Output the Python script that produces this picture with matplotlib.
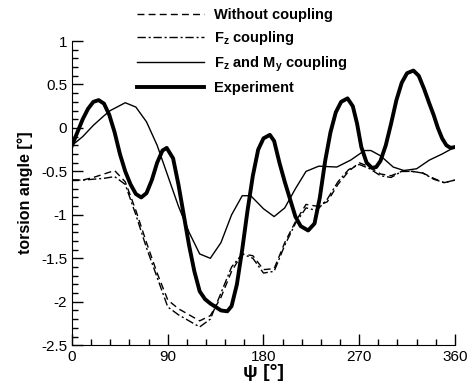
import matplotlib
matplotlib.use("Agg")
import matplotlib.pyplot as plt
from matplotlib.ticker import MultipleLocator

plt.rcParams['font.family'] = ['Liberation Sans', 'DejaVu Sans']
plt.rcParams['axes.unicode_minus'] = False
plt.rcParams['mathtext.fontset'] = 'custom'
plt.rcParams['mathtext.rm'] = 'Liberation Sans'
plt.rcParams['mathtext.bf'] = 'Liberation Sans:bold'

# simulation results, psi in degrees
psi_sim = [0, 10, 20, 30, 40, 50, 60, 70, 80, 90, 100, 110, 120, 130, 140, 150, 160, 170,
           180, 190, 200, 210, 220, 230, 240, 250, 260, 270, 280, 290, 300, 310, 320, 330,
           340, 350, 360]
without_coupling = [-0.60, -0.60, -0.57, -0.53, -0.49, -0.62, -0.95, -1.32, -1.67, -1.98,
                    -2.08, -2.15, -2.22, -2.16, -1.95, -1.65, -1.45, -1.47, -1.63, -1.62,
                    -1.32, -1.08, -0.88, -0.90, -0.85, -0.65, -0.50, -0.40, -0.45, -0.53,
                    -0.55, -0.50, -0.50, -0.52, -0.58, -0.63, -0.60]
fz_coupling = [-0.60, -0.60, -0.59, -0.58, -0.56, -0.65, -1.00, -1.38, -1.72, -2.06,
               -2.15, -2.22, -2.29, -2.20, -1.90, -1.60, -1.45, -1.50, -1.67, -1.65,
               -1.35, -1.10, -0.92, -0.95, -0.82, -0.62, -0.48, -0.42, -0.47, -0.55,
               -0.57, -0.50, -0.50, -0.52, -0.59, -0.63, -0.60]

psi_fzmy = [0, 10, 20, 30, 36, 50, 60, 70, 80, 90, 100, 110, 120, 130, 140, 150, 160, 168,
            180, 190, 200, 210, 220, 232, 249, 262, 275, 281, 290, 302, 312, 324, 336, 348, 360]
fz_my_coupling = [-0.20, -0.10, 0.03, 0.14, 0.20, 0.29, 0.24, 0.07, -0.20, -0.55, -0.90,
                  -1.20, -1.45, -1.50, -1.32, -1.00, -0.78, -0.78, -0.93, -1.02, -0.92,
                  -0.70, -0.50, -0.44, -0.45, -0.37, -0.26, -0.26, -0.32, -0.45, -0.49,
                  -0.47, -0.37, -0.30, -0.22]

# measured
psi_exp = [0, 5, 10, 15, 20, 25, 30, 35, 40, 45, 50, 55, 60, 65, 70, 75, 80, 85, 89, 95,
           100, 105, 110, 115, 120, 125, 130, 135, 140, 146, 150, 155, 160, 165, 170, 175,
           180, 186, 190, 195, 200, 205, 210, 215, 222, 228, 233, 238, 243, 248, 253, 259,
           264, 268, 272, 277, 282, 286, 290, 295, 300, 305, 310, 315, 321, 326, 331, 336,
           340, 344, 348, 352, 356, 360]
experiment = [-0.20, -0.05, 0.10, 0.22, 0.30, 0.32, 0.28, 0.15, -0.05, -0.30, -0.50, -0.65,
              -0.76, -0.80, -0.75, -0.60, -0.40, -0.26, -0.23, -0.35, -0.65, -1.00, -1.35,
              -1.65, -1.88, -1.97, -2.02, -2.06, -2.10, -2.11, -2.05, -1.80, -1.40, -0.95,
              -0.55, -0.25, -0.12, -0.08, -0.15, -0.40, -0.62, -0.82, -1.02, -1.13, -1.18,
              -1.10, -0.80, -0.38, -0.05, 0.18, 0.30, 0.34, 0.25, 0.05, -0.22, -0.40, -0.46,
              -0.45, -0.38, -0.20, 0.05, 0.32, 0.52, 0.63, 0.66, 0.60, 0.45, 0.28, 0.15, 0.00,
              -0.12, -0.20, -0.23, -0.22]

fig = plt.figure(figsize=(4.68, 3.87), dpi=100)
ax = fig.add_axes([0.154, 0.108, 0.818, 0.786])

ax.plot(psi_sim, without_coupling, color='black', lw=1.0, ls=(0, (5, 3)),
        label='Without coupling')
ax.plot(psi_sim, fz_coupling, color='black', lw=1.0, ls=(0, (6, 2, 1.5, 2)),
        label=r'$\mathbf{F_z}$ coupling')
ax.plot(psi_fzmy, fz_my_coupling, color='black', lw=1.0,
        label=r'$\mathbf{F_z}$ and $\mathbf{M_y}$ coupling')
ax.plot(psi_exp, experiment, color='black', lw=2.8, label='Experiment')

ax.set_xlim(0, 360)
ax.set_ylim(-2.5, 1)
ax.xaxis.set_major_locator(MultipleLocator(90))
ax.xaxis.set_minor_locator(MultipleLocator(18))
ax.yaxis.set_major_locator(MultipleLocator(0.5))
ax.yaxis.set_minor_locator(MultipleLocator(0.1))
ax.yaxis.set_major_formatter(plt.FuncFormatter(lambda v, p: f'{v:g}'))
ax.tick_params(which='both', direction='in', labelsize=11, top=False, right=False)
ax.tick_params(which='major', length=8, width=1)
ax.tick_params(which='minor', length=4, width=1)
ax.spines['top'].set_visible(False)
ax.spines['right'].set_visible(False)

ax.set_xlabel('ψ [°]', fontsize=14, fontweight='bold', labelpad=0)
ax.set_ylabel('torsion angle [°]', fontsize=11.5, fontweight='bold', labelpad=6)

fig.legend(loc='upper left', bbox_to_anchor=(137 / 468, 1 - 8 / 387), frameon=False,
           prop={'weight': 'bold', 'size': 10.5}, handlelength=4.6, handletextpad=0.7,
           labelspacing=0.5, borderpad=0, borderaxespad=0)

fig.savefig('out.png', dpi=100)
